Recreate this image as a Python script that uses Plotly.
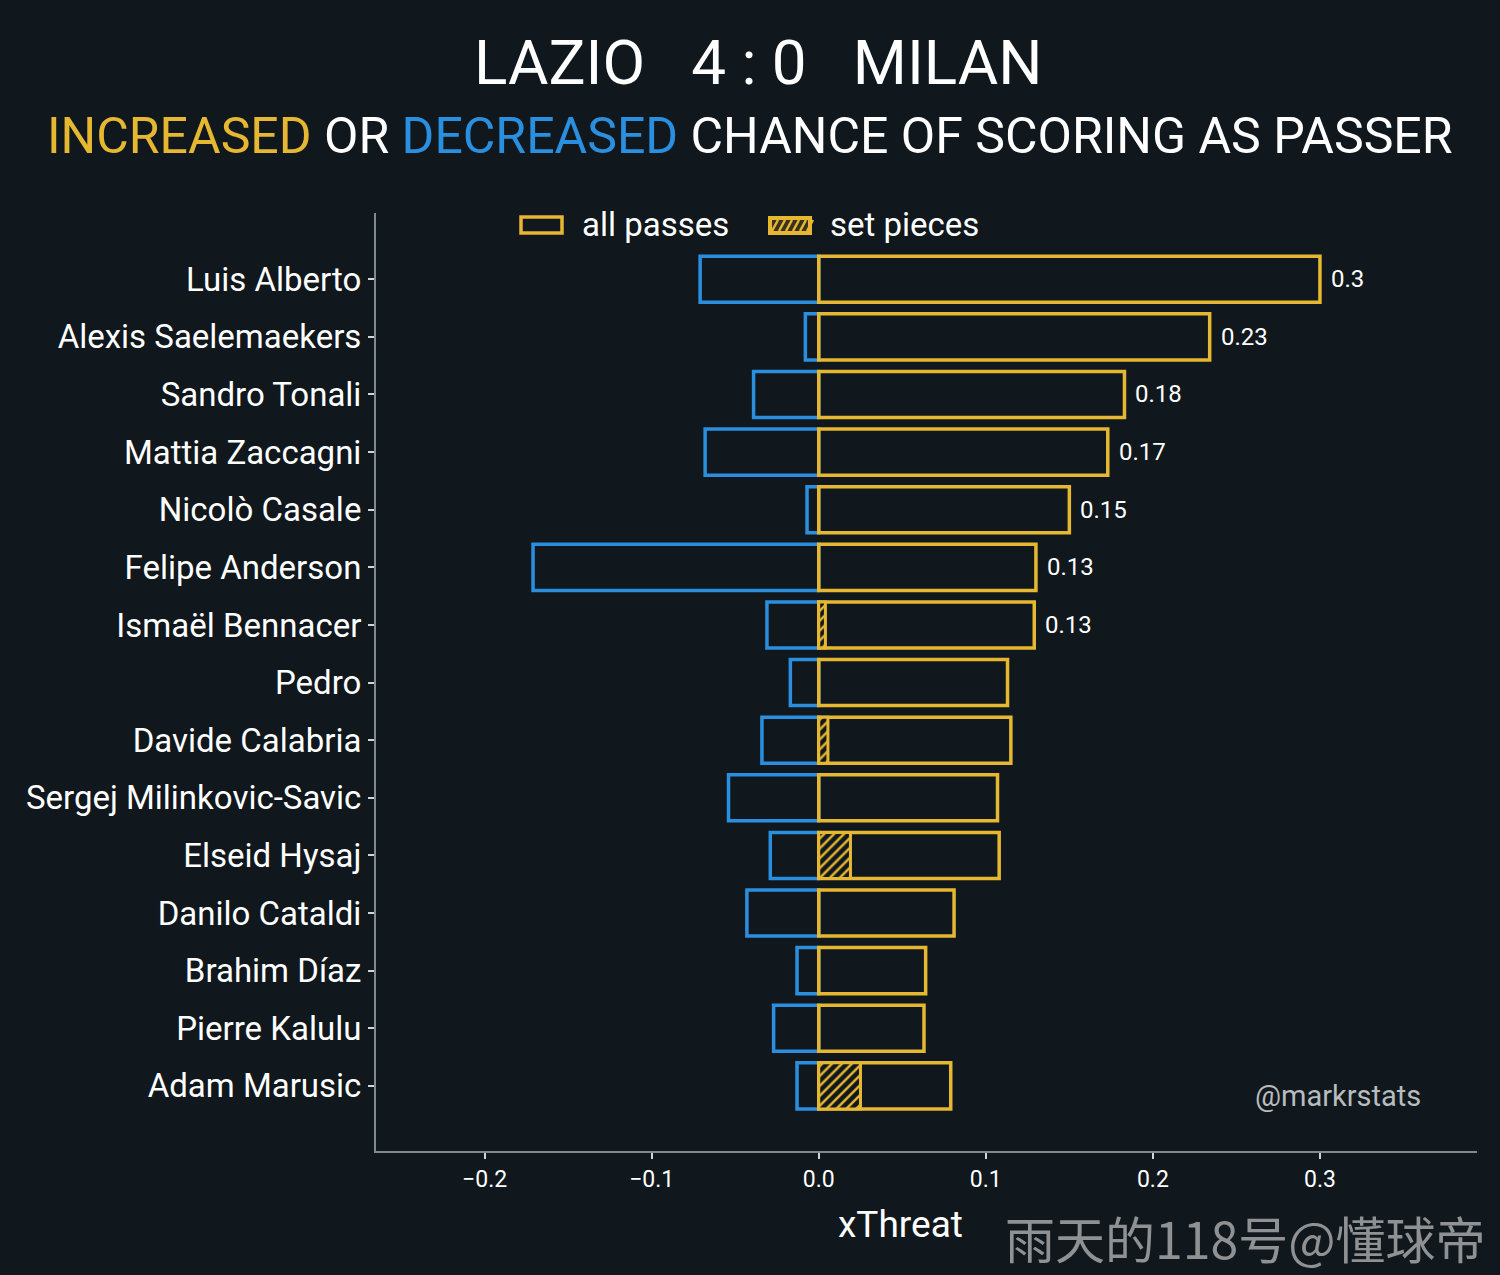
import plotly.graph_objects as go

players = ["Luis Alberto", "Alexis Saelemaekers", "Sandro Tonali", "Mattia Zaccagni",
           "Nicolò Casale", "Felipe Anderson", "Ismaël Bennacer", "Pedro",
           "Davide Calabria", "Sergej Milinkovic-Savic", "Elseid Hysaj", "Danilo Cataldi",
           "Brahim Díaz", "Pierre Kalulu", "Adam Marusic"]
positive = [0.300, 0.234, 0.183, 0.173, 0.150, 0.130, 0.129, 0.113,
            0.115, 0.107, 0.108, 0.081, 0.064, 0.063, 0.079]
negative = [-0.071, -0.008, -0.039, -0.068, -0.007, -0.171, -0.031, -0.017,
            -0.034, -0.054, -0.029, -0.043, -0.013, -0.027, -0.013]
set_pieces = [0.0, 0.0, 0.0, 0.0, 0.0, 0.0, 0.004, 0.0,
              0.0055, 0.0, 0.019, 0.0, 0.0, 0.0, 0.025]
value_labels = ["0.3", "0.23", "0.18", "0.17", "0.15", "0.13", "0.13", "", "", "", "", "", "", "", ""]
x_ticks = [-0.2, -0.1, 0.0, 0.1, 0.2, 0.3]

BG = "#10171d"
GOLD = "#e6b730"
BLUE = "#2b8fe0"
FONT = "Roboto"

W, H = 1500, 1275
ML, MR, MT, MB = 376, 23, 213, 124
H_PLOT = H - MT - MB
W_PLOT = W - ML - MR


def py(pix):
    return (H - MB - pix) / H_PLOT


def px(pix):
    return (pix - ML) / W_PLOT


fig = go.Figure()

fig.add_trace(go.Bar(
    y=players, x=negative, orientation="h", width=0.8,
    marker=dict(color="rgba(0,0,0,0)", line=dict(color=BLUE, width=3.5)),
    showlegend=False, hoverinfo="skip"))

fig.add_trace(go.Bar(
    y=players, x=positive, orientation="h", width=0.8, name="all passes",
    marker=dict(color="rgba(0,0,0,0)", line=dict(color=GOLD, width=3.5)),
    showlegend=False))

sp_x = [v if v > 0 else None for v in set_pieces]
fig.add_trace(go.Bar(
    y=players, x=sp_x, orientation="h", width=0.8, name="set pieces",
    marker=dict(color=BG, line=dict(color=GOLD, width=3),
                pattern=dict(shape="/", fgcolor=GOLD, bgcolor=BG, size=7, solidity=0.35,
                             fillmode="replace")),
    showlegend=False))

# value labels at the end of the positive bars
for name, val, lab in zip(players, positive, value_labels):
    if lab:
        fig.add_annotation(x=val, y=name, text=lab, xanchor="left", yanchor="middle",
                           xshift=9, showarrow=False,
                           font=dict(size=24, color="white", family=FONT))

fig.update_layout(
    width=W, height=H,
    paper_bgcolor=BG, plot_bgcolor=BG,
    barmode="overlay",
    showlegend=False,
    margin=dict(l=ML, r=MR, t=MT, b=MB),
    font=dict(family=FONT, color="white"),
    xaxis=dict(range=[-0.265, 0.394], tickvals=x_ticks, tickformat=".1f",
               showgrid=False, zeroline=False, showline=True, linecolor="#7d8a8e",
               linewidth=2, ticks="outside", ticklen=6, tickcolor="#cfd5d8", tickwidth=2,
               tickfont=dict(size=23, color="white", family=FONT)),
    yaxis=dict(categoryorder="array", categoryarray=players,
               range=[len(players) - 1 + 1.13, -1.15],
               showgrid=False, zeroline=False, showline=True, linecolor="#7d8a8e",
               linewidth=2, ticks="outside", ticklen=6, tickcolor="#cfd5d8", tickwidth=2,
               tickfont=dict(size=33, color="white", family=FONT)),
)

# legend drawn manually
fig.add_shape(type="rect", xref="paper", yref="paper",
              x0=px(521), x1=px(562), y0=py(233), y1=py(217),
              line=dict(color=GOLD, width=3.5), fillcolor="rgba(0,0,0,0)")
fig.add_annotation(text="all passes", xref="paper", yref="paper", x=px(580), y=py(224),
                   xanchor="left", yanchor="middle", showarrow=False,
                   font=dict(size=33, color="white", family=FONT))
fig.add_shape(type="rect", xref="paper", yref="paper",
              x0=px(768), x1=px(812), y0=py(235), y1=py(216),
              line=dict(color=GOLD, width=0), fillcolor=GOLD)
fig.add_shape(type="rect", xref="paper", yref="paper",
              x0=px(772), x1=px(808), y0=py(231), y1=py(220),
              line=dict(color=GOLD, width=0), fillcolor="#3a3220")
for k in range(6):
    xa = 772 + k * 7
    fig.add_shape(type="line", xref="paper", yref="paper",
                  x0=px(xa), y0=py(231), x1=px(xa + 6), y1=py(220),
                  line=dict(color=GOLD, width=2.5))
fig.add_annotation(text="set pieces", xref="paper", yref="paper", x=px(828), y=py(224),
                   xanchor="left", yanchor="middle", showarrow=False,
                   font=dict(size=33, color="white", family=FONT))

fig.add_annotation(text="LAZIO   4 : 0   MILAN", xref="paper", yref="paper",
                   x=px(758), y=py(62), xanchor="center", yanchor="middle",
                   showarrow=False, font=dict(size=62, color="white", family=FONT))
fig.add_annotation(
    text=f"<span style='color:{GOLD}'>INCREASED</span> OR "
         f"<span style='color:{BLUE}'>DECREASED</span> CHANCE OF SCORING AS PASSER",
    xref="paper", yref="paper", x=px(750), y=py(136), xanchor="center", yanchor="middle",
    showarrow=False, font=dict(size=50, color="white", family=FONT))

fig.add_annotation(text="xThreat", xref="paper", yref="paper", x=px(900), y=py(1224),
                   xanchor="center", yanchor="middle", showarrow=False,
                   font=dict(size=37, color="white", family=FONT))
fig.add_annotation(text="@markrstats", xref="paper", yref="paper", x=px(1423), y=py(1096),
                   xanchor="right", yanchor="middle", showarrow=False,
                   font=dict(size=29, color="#b7bcbf", family=FONT))
fig.add_annotation(text="雨天的118号@懂球帝", xref="paper", yref="paper", x=px(1488), y=py(1237),
                   xanchor="right", yanchor="middle", showarrow=False,
                   font=dict(size=50, color="#8f9193", family="Noto Sans CJK SC"))

fig.write_html("out.html", config={"displayModeBar": False},
               post_script="document.body.style.margin='0';document.body.style.background='" + BG + "';")
